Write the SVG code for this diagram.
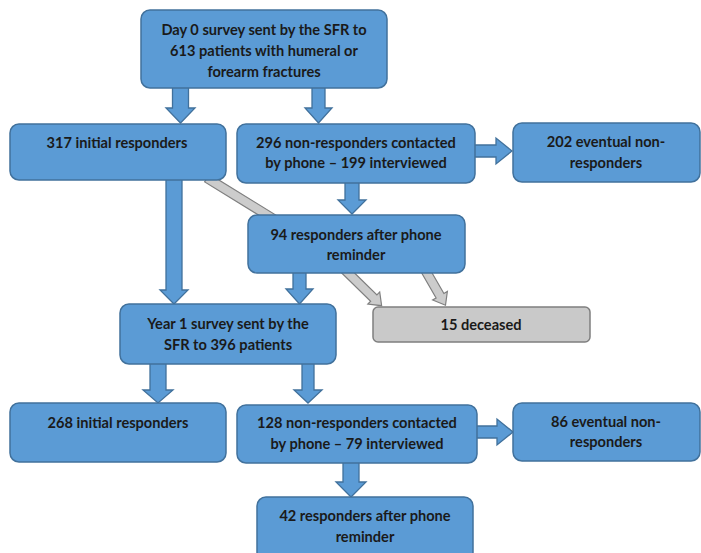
<svg xmlns="http://www.w3.org/2000/svg" width="701" height="553" viewBox="0 0 701 553">
<style>
.box{fill:#5b9bd5;stroke:#41719c;stroke-width:1.5}
.grey{fill:#c9c9c9;stroke:#7f7f7f;stroke-width:1.5}
.arr{fill:#5b9bd5;stroke:#41719c;stroke-width:1.3;stroke-linejoin:miter}
.garr{fill:#cccccc;stroke:#7f7f7f;stroke-width:1.2}
text{font-family:Lato,"Open Sans","Liberation Sans",sans-serif;font-weight:bold;font-size:14.6px;fill:#1a1a1a;text-anchor:middle}
</style>
<rect width="701" height="553" fill="#ffffff"/>
<g id="connectors">
  <path class="arr" d="M172.5,86 V108 H166 L180.5,123 L195,108 H188.5 V86 Z"/>
  <path class="arr" d="M312,86 V108 H305 L318.5,123 L332,108 H325 V86 Z"/>
  <path class="arr" d="M166,178 V290 H160 L174,304 L188,290 H182 V178 Z"/>
  <path class="arr" d="M345,181 V200 H338 L352,214 L366,200 H359 V181 Z"/>
  <path class="arr" d="M293,271 V289 H286 L299.5,304 L313,289 H306 V271 Z"/>
  <path class="arr" d="M473,145 H496 V138 L512,151 L496,164 V157 H473 Z"/>
  <path class="arr" d="M150,362 V390 H143 L158,403 L173,390 H166 V362 Z"/>
  <path class="arr" d="M302,362 V390 H294 L308,403 L322,390 H314 V362 Z"/>
  <path class="arr" d="M475,426 H497 V419 L513,432 L497,445 V438 H475 Z"/>
  <path class="arr" d="M343,461 V482 H336 L351,497 L366,482 H359 V461 Z"/>
  <g transform="translate(207,178) rotate(31.6)">
    <path class="garr" d="M0,-4.5 H80 V4.5 H0 Z"/>
  </g>
  <g transform="translate(343,268) rotate(44.3)">
    <path class="garr" d="M0,-4.5 H43 V-8.5 L54,0 L43,8.5 V4.5 H0 Z"/>
  </g>
  <g transform="translate(424,268) rotate(60)">
    <path class="garr" d="M0,-4.5 H32 V-8.5 L43,0 L32,8.5 V4.5 H0 Z"/>
  </g>
</g>
<g id="n_day0">
  <rect class="box" x="141" y="10" width="246" height="78" rx="9"/>
  <text x="264" y="35">Day 0 survey sent by the SFR to</text>
  <text x="264" y="56">613 patients with humeral or</text>
  <text x="264" y="77">forearm fractures</text>
</g>
<g id="n_317">
  <rect class="box" x="10" y="124" width="216" height="56" rx="9"/>
  <text x="117" y="148">317 initial responders</text>
</g>
<g id="n_296">
  <rect class="box" x="237" y="124" width="238" height="59" rx="9"/>
  <text x="356" y="148">296 non-responders contacted</text>
  <text x="356" y="168">by phone – 199 interviewed</text>
</g>
<g id="n_202">
  <rect class="box" x="513" y="123" width="187" height="59" rx="9"/>
  <text x="606" y="147">202 eventual non-</text>
  <text x="606" y="168">responders</text>
</g>
<g id="n_94">
  <rect class="box" x="248" y="215" width="217" height="58" rx="9"/>
  <text x="356" y="240">94 responders after phone</text>
  <text x="356" y="260">reminder</text>
</g>
<g id="n_deceased">
  <rect class="grey" x="373" y="307" width="217" height="35" rx="5"/>
  <text x="481" y="330">15 deceased</text>
</g>
<g id="n_year1">
  <rect class="box" x="120" y="304" width="216" height="60" rx="9"/>
  <text x="228" y="329">Year 1 survey sent by the</text>
  <text x="228" y="350">SFR to 396 patients</text>
</g>
<g id="n_268">
  <rect class="box" x="10" y="403" width="216" height="59" rx="9"/>
  <text x="118" y="428">268 initial responders</text>
</g>
<g id="n_128">
  <rect class="box" x="237" y="405" width="240" height="58" rx="9"/>
  <text x="357" y="428">128 non-responders contacted</text>
  <text x="357" y="449">by phone – 79 interviewed</text>
</g>
<g id="n_86">
  <rect class="box" x="513" y="403" width="187" height="58" rx="9"/>
  <text x="606" y="427">86 eventual non-</text>
  <text x="606" y="447">responders</text>
</g>
<g id="n_42">
  <rect class="box" x="257" y="497" width="216" height="64" rx="9"/>
  <text x="365" y="521">42 responders after phone</text>
  <text x="365" y="542">reminder</text>
</g>
</svg>
